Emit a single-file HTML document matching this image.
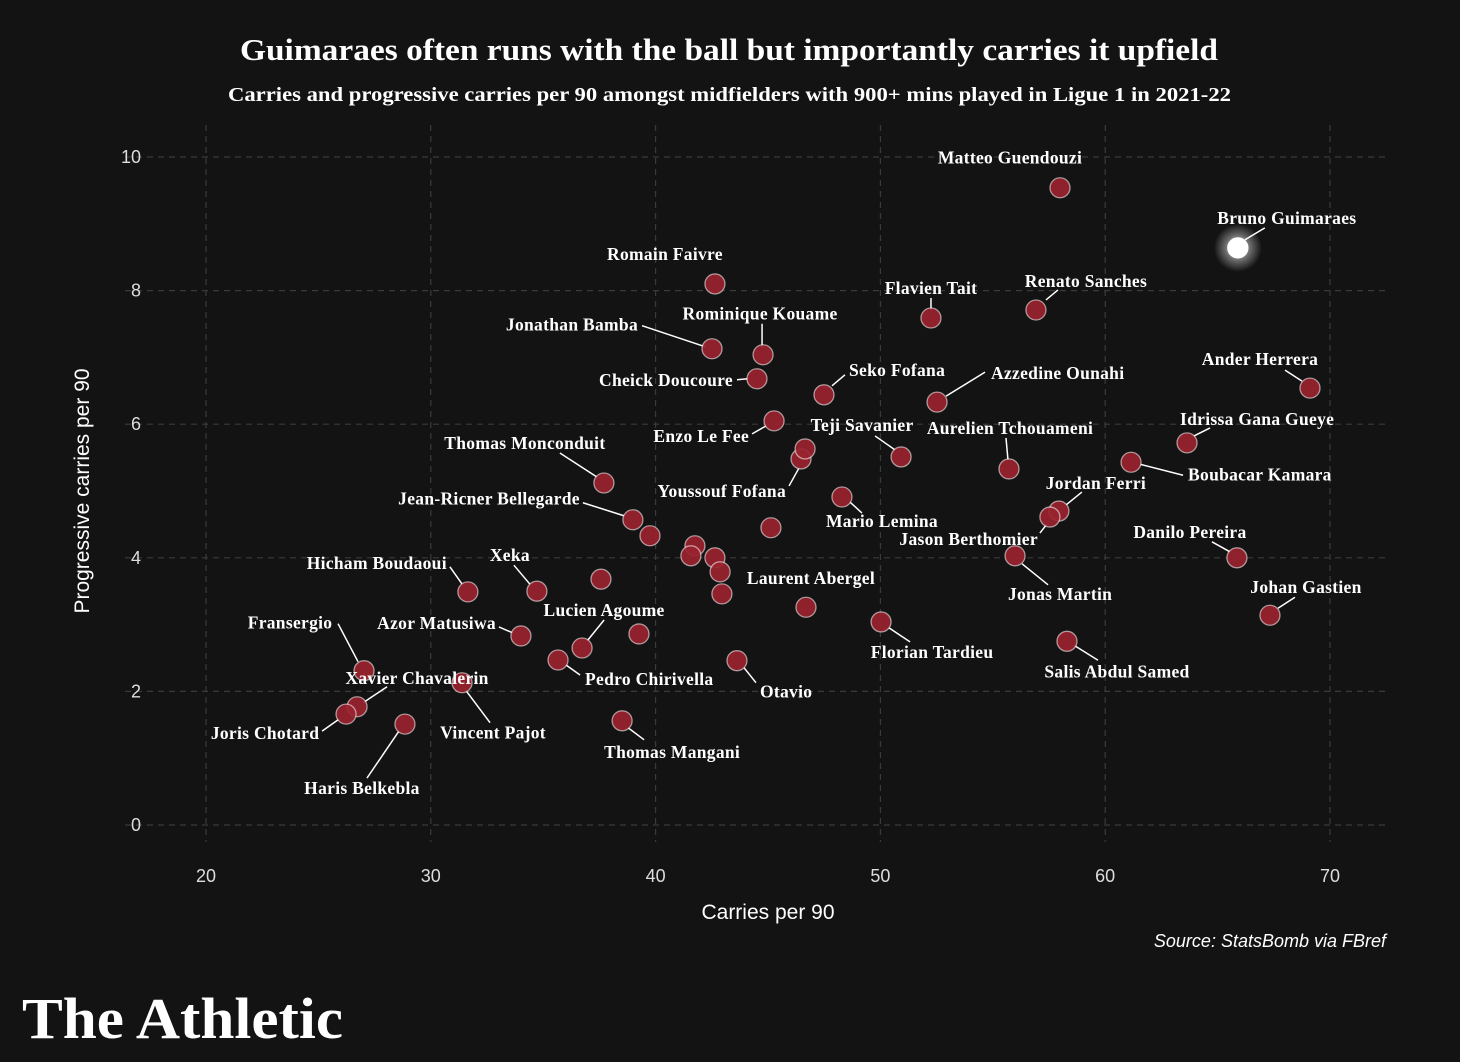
<!DOCTYPE html>
<html><head><meta charset="utf-8">
<style>
html,body{margin:0;padding:0;background:#131313;}
svg{display:block;}
</style></head>
<body>
<svg id="chart" width="1460" height="1062" viewBox="0 0 1460 1062" xmlns="http://www.w3.org/2000/svg">
<rect width="1460" height="1062" fill="#131313"/>
<defs>
<radialGradient id="glow"><stop offset="0" stop-color="#fff" stop-opacity="0.9"/><stop offset="0.55" stop-color="#fff" stop-opacity="0.35"/><stop offset="1" stop-color="#fff" stop-opacity="0"/></radialGradient>
</defs>
<text x="240" y="60" textLength="978" lengthAdjust="spacingAndGlyphs" fill="#fff" font-family="'Liberation Serif',serif" font-weight="bold" font-size="31">Guimaraes often runs with the ball but importantly carries it upfield</text>
<text x="228" y="101" textLength="1003" lengthAdjust="spacingAndGlyphs" fill="#fff" font-family="'Liberation Serif',serif" font-weight="bold" font-size="20">Carries and progressive carries per 90 amongst midfielders with 900+ mins played in Ligue 1 in 2021-22</text>
<g id="grid"></g>
<g id="ticks"></g>
<g id="leaders"></g>
<g id="points"></g>
<g id="labels"></g>
<text x="768" y="919" text-anchor="middle" fill="#fff" font-family="'Liberation Sans',sans-serif" font-size="21">Carries per 90</text>
<text transform="translate(89,491) rotate(-90)" text-anchor="middle" fill="#fff" font-family="'Liberation Sans',sans-serif" font-size="21">Progressive carries per 90</text>
<text x="1386" y="947" text-anchor="end" fill="#fff" font-family="'Liberation Sans',sans-serif" font-style="italic" font-size="18">Source: StatsBomb via FBref</text>
<text x="22" y="1038" textLength="321" lengthAdjust="spacingAndGlyphs" fill="#fff" font-family="'Liberation Serif',serif" font-weight="bold" font-size="58">The Athletic</text>
</svg>
<script>
const xTicks = [20, 30, 40, 50, 60, 70];
const yTicks = [0, 2, 4, 6, 8, 10];
const names = ["Matteo Guendouzi","Bruno Guimaraes","Romain Faivre","Flavien Tait","Renato Sanches","Jonathan Bamba","Rominique Kouame","Cheick Doucoure","Seko Fofana","Azzedine Ounahi","Ander Herrera","Enzo Le Fee","Idrissa Gana Gueye","Teji Savanier","Aurelien Tchouameni","Boubacar Kamara","Youssouf Fofana","Thomas Monconduit","Mario Lemina","Jordan Ferri","Jason Berthomier","Jean-Ricner Bellegarde","Jonas Martin","Danilo Pereira","Hicham Boudaoui","Xeka","Laurent Abergel","Johan Gastien","Florian Tardieu","Azor Matusiwa","Lucien Agoume","Salis Abdul Samed","Fransergio","Pedro Chirivella","Otavio","Vincent Pajot","Xavier Chavalerin","Joris Chotard","Haris Belkebla","Thomas Mangani","","","","","","","","","",""];
const carries = [57.99,65.9,42.64,52.25,56.92,42.51,44.78,44.51,47.49,52.52,69.11,45.27,63.64,50.92,55.72,61.15,46.47,37.70,48.29,57.94,57.54,38.99,55.99,65.86,31.65,34.72,46.69,67.33,50.03,34.01,36.73,58.30,27.03,35.66,43.62,31.39,26.72,26.23,28.85,38.51,46.65,39.75,45.13,41.75,41.57,42.64,42.87,42.95,37.57,39.26];
const progCarries = [9.54,8.64,8.10,7.59,7.71,7.13,7.04,6.68,6.44,6.33,6.54,6.05,5.72,5.51,5.33,5.43,5.48,5.12,4.91,4.70,4.61,4.57,4.03,4.00,3.49,3.50,3.26,3.14,3.04,2.83,2.65,2.75,2.31,2.47,2.46,2.13,1.77,1.66,1.51,1.56,5.63,4.33,4.45,4.18,4.03,4.00,3.79,3.46,3.68,2.86];
// label layout offsets (styling, relative to point): [dx,dy,anchor,l1x,l1y,l2x,l2y]
const labelLayout = [
[-50,-24,'middle'],[49,-24,'middle',7,-8,27,-20],[-50,-24,'middle'],[0,-24,'middle',0,-20,0,-8],[50,-23,'middle',10,-10,22,-20],
[-74,-18,'end',-70,-23,-7,-2],[-3,-35,'middle',-1,-31,-1,-8],[-24,7,'end',-20,1,-9,0],[25,-19,'start',8,-9,21,-20],[54,-23,'start',9,-6,48,-30],
[-50,-23,'middle',-25,-18,-8,-7],[-25,21,'end',-22,13,-8,5],[-7,-18,'start',7,-7,23,-15],[-39,-26,'middle',-26,-21,-6,-7],[1,-35,'middle',-3,-31,-1,-9],
[57,18,'start',9,2,52,13],[-15,38,'end',-12,27,-2,9],[-79,-34,'middle',-44,-30,-7,-6],[40,30,'middle',8,5,20,16],[37,-22,'middle',7,-6,23,-19],
[-12,28,'end',-10,16,-3,7],[-53,-15,'end',-50,-17,-9,-4],[45,44,'middle',7,8,33,29],[-47,-20,'middle',-25,-16,-7,-6],[-21,-23,'end',-18,-25,-6,-8],
[-27,-30,'middle',-23,-26,-7,-7],[5,-23,'middle'],[36,-22,'middle',25,-18,8,-7],[51,36,'middle',8,6,29,20],[-25,-7,'end',-22,-9,-8,-3],
[22,-32,'middle',22,-28,5,-7],[50,36,'middle',7,4,31,19],[-74,-42,'middle',-26,-47,-6,-9],[27,25,'start',8,5,22,15],[23,37,'start',7,7,19,22],
[31,56,'middle',4,8,28,40],[60,-23,'middle',30,-20,6,-4],[-81,25,'middle',-24,17,-7,5],[-43,70,'middle',-38,54,-6,7],[50,37,'middle',6,7,22,19]
];
const X = v => 206 + (v - 20) * 22.48;
const Y = v => 825 - v * 66.8;
const NS = 'http://www.w3.org/2000/svg';
function mk(tag, attrs, parent){const e=document.createElementNS(NS,tag);for(const k in attrs)e.setAttribute(k,attrs[k]);parent.appendChild(e);return e;}
const grid=document.getElementById('grid'),ticks=document.getElementById('ticks');
xTicks.forEach(t=>{
  const l=mk('line',{x1:X(t),x2:X(t),y1:125,y2:842,stroke:'#3a3a3a','stroke-dasharray':'6,5','stroke-width':1.2},grid);
  
  
  const tx=mk('text',{x:X(t),y:882,'text-anchor':'middle',fill:'#ddd','font-family':"'Liberation Sans',sans-serif",'font-size':18},ticks);
  tx.textContent=t;
  
  
});
yTicks.forEach(t=>{
  const l=mk('line',{x1:125,x2:1386,y1:Y(t),y2:Y(t),stroke:'#3a3a3a','stroke-dasharray':'6,5','stroke-width':1.2},grid);
  
  
  const tx=mk('text',{x:141,y:Y(t)+6,'text-anchor':'end',fill:'#ddd','font-family':"'Liberation Sans',sans-serif",'font-size':18},ticks);
  tx.textContent=t;
  
  
});
const pts=document.getElementById('points'),labs=document.getElementById('labels'),leads=document.getElementById('leaders');
carries.forEach((c,i)=>{
  const px=X(c),py=Y(progCarries[i]);
  const hl = names[i]==='Bruno Guimaraes';
  if(hl){
    const g=mk('circle',{cx:px,cy:py,r:24,fill:'url(#glow)'},pts);
    
    
  }
  const p=mk('circle',{cx:px,cy:py,r:10,fill:hl?'#ffffff':'#9a2330','fill-opacity':hl?1:0.92,stroke:hl?'#ffffff':'rgba(255,255,255,0.55)','stroke-width':1.3},pts);
  
  
  const L=labelLayout[i];
  if(names[i] && L){
    if(L.length>3){
      const ln=mk('line',{x1:px+L[3],y1:py+L[4],x2:px+L[5],y2:py+L[6],stroke:'#fff','stroke-width':1.5},leads);
      
      
    }
    const t=mk('text',{x:px+L[0],y:py+L[1],'text-anchor':L[2],fill:'#fff','font-family':"'Liberation Serif',serif",'font-weight':'bold','font-size':17.5,'letter-spacing':0.3},labs);
    t.textContent=names[i];
    
    
  }
});
</script>
</body></html>
